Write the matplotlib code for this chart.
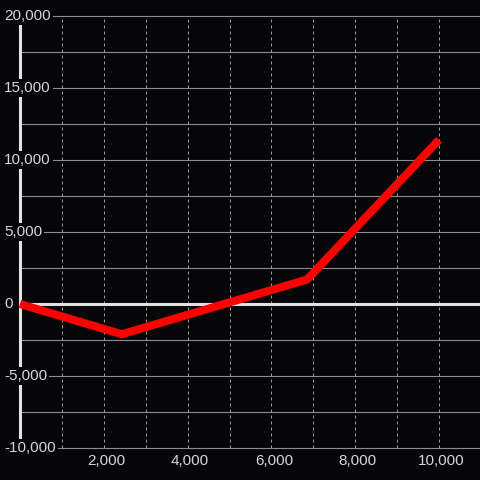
import numpy as np
import matplotlib
matplotlib.use("Agg")
import matplotlib.pyplot as plt

# data
x_vals = [0, 2430, 6850, 10000]
y_vals = [0, -2100, 1700, 11400]

x_ticks = [2000, 4000, 6000, 8000, 10000]
x_minor = list(range(1000, 11000, 1000))
y_ticks = [-10000, -5000, 0, 5000, 10000, 15000, 20000]
y_grid = list(range(-10000, 20001, 2500))

bg = '#060609'
txt = '#d6d6d6'

plt.rcParams['font.family'] = ['Liberation Sans', 'DejaVu Sans']

fig = plt.figure(figsize=(4.8, 4.8), dpi=100, facecolor=bg)
ax = fig.add_axes([0, 0, 1, 1])
ax.set_facecolor(bg)
ax.set_xlim(-477, 10978)
ax.set_ylim(-12222, 21111)
ax.axis('off')

# vertical dotted grid
for xv in x_minor:
    ax.plot([xv, xv], [-10000, 20000], color='#9a9a9a', lw=0.72,
            ls=(0, (3, 3)), zorder=1)

# horizontal grid
for yv in y_grid:
    if yv == 0:
        continue
    ax.plot([0, 11500], [yv, yv], color='#8c8c8c', lw=0.8, zorder=1)

# zero line and y axis
ax.plot([0, 11500], [0, 0], color='#e2e2e2', lw=2.2, zorder=2)
ax.plot([0, 0], [-10000, 20000], color='#e2e2e2', lw=2.2, zorder=2)

# series
ax.plot(x_vals, y_vals, color='#ff0000', lw=5.8, solid_capstyle='butt',
        solid_joinstyle='round', zorder=4)

# y labels (drawn inside, with background box)
for yv in y_ticks:
    ax.text(-380, yv, f"{yv:,}", color=txt, fontsize=11, ha='left',
            va='center', zorder=5,
            bbox=dict(facecolor=bg, edgecolor='none', pad=1.5))

# x labels
for xv in x_ticks:
    ax.text(xv + 60, -10903, f"{xv:,}", color=txt, fontsize=11,
            ha='center', va='center', zorder=5)

fig.savefig('out.png', dpi=100, facecolor=bg)
